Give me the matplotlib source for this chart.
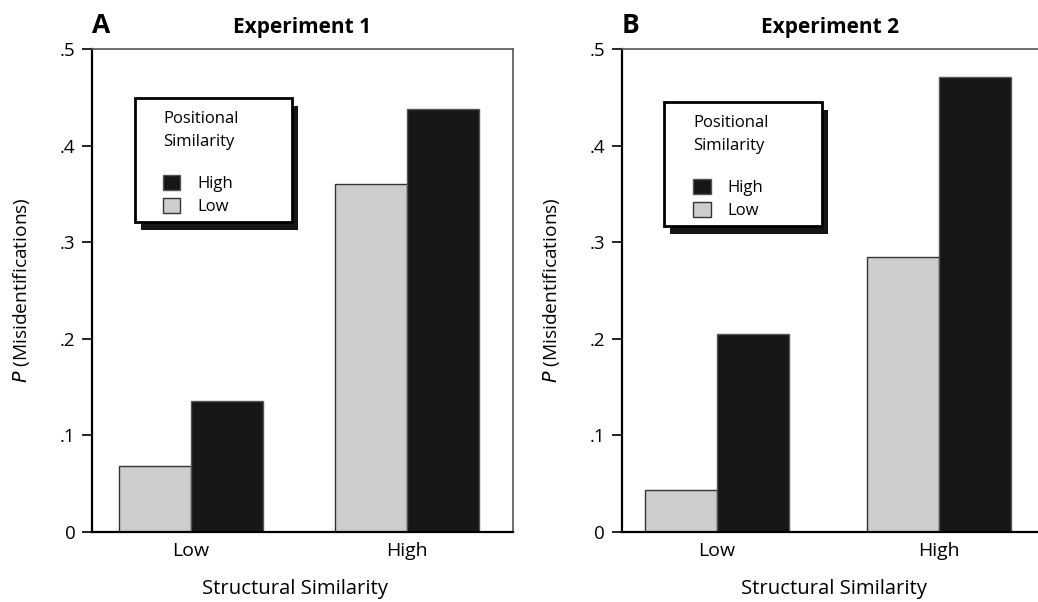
import matplotlib
matplotlib.use('Agg')
import matplotlib.pyplot as plt
import matplotlib.patheffects as pe
from matplotlib.patches import Rectangle
import numpy as np

plt.rcParams['font.family'] = ['Open Sans', 'DejaVu Sans']

#資料
groups = ['Low', 'High']
exp1_low = [0.068, 0.360]   # positional similarity low
exp1_high = [0.136, 0.438]  # positional similarity high
exp2_low = [0.043, 0.285]
exp2_high = [0.205, 0.471]
yticks = [0, 0.1, 0.2, 0.3, 0.4, 0.5]
ytick_labels = ['0', '.1', '.2', '.3', '.4', '.5']

gray = '#cccecd'
black = '#161616'

fig = plt.figure(figsize=(10.38, 6.02), dpi=100)
axA = fig.add_axes([92/1038, 1-532/602, 421/1038, 483/602])
axB = fig.add_axes([621.7/1038, 1-532/602, (1038-621.7)/1038, 483/602])

def draw(ax, low, high, title, letter, xlim, w, box, leg_anchor, xlab_x):
    x = np.arange(len(groups))
    ax.bar(x - w/2, low, width=w, color=gray, edgecolor='#333333', linewidth=1, label='Low')
    ax.bar(x + w/2, high, width=w, color=black, edgecolor='#555555', linewidth=1, label='High')
    ax.set_xlim(*xlim)
    ax.set_ylim(0, 0.5)
    ax.set_yticks(yticks)
    ax.set_yticklabels(ytick_labels, fontsize=13.5)
    ax.set_xticks(x)
    ax.set_xticklabels(groups, fontsize=14)
    ax.tick_params(axis='y', direction='out', length=7, width=1.2, pad=5)
    ax.tick_params(axis='x', length=0, pad=7)
    for s in ['left', 'bottom']:
        ax.spines[s].set_linewidth(1.6)
    for s in ['top', 'right']:
        ax.spines[s].set_linewidth(1.2)
        ax.spines[s].set_color('#555555')
    ax.set_xlabel('Structural Similarity', fontsize=14.6, labelpad=14)
    ax.xaxis.label.set_x(xlab_x)
    ax.set_ylabel(r'$\mathit{P}$ (Misidentifications)', fontsize=13.8, labelpad=20)
    ax.set_title(title, fontsize=15, fontweight='bold', pad=11.5)
    ax.text(0.0, 1.033, letter, transform=ax.transAxes, fontsize=19,
            fontweight='bold', ha='left', va='baseline')
    #圖例外框 + 陰影
    rect = Rectangle(box[:2], box[2], box[3], transform=ax.transAxes, facecolor='white',
                     edgecolor='black', linewidth=2, zorder=4, clip_on=False)
    rect.set_path_effects([pe.SimplePatchShadow(offset=(4.5, -5.5), shadow_rgbFace='#151515', alpha=1),
                           pe.Normal()])
    ax.add_patch(rect)
    h, l = ax.get_legend_handles_labels()
    leg = ax.legend(h[::-1], l[::-1], title='Positional\nSimilarity', loc='upper left',
                    bbox_to_anchor=leg_anchor, fontsize=12, title_fontsize=12,
                    alignment='left', frameon=False, handlelength=1.05,
                    handleheight=1.05, handletextpad=1.0, borderpad=0,
                    labelspacing=0.35, borderaxespad=0)
    leg.get_title().set_linespacing(1.55)
    leg._legend_box.sep = 18
    leg.set_zorder(5)

draw(axA, exp1_low, exp1_high, 'Experiment 1', 'A', (-0.458, 1.491), 0.333,
     (0.1021, 0.6418, 0.3729, 0.2567), (0.1686, (532-111)/483), 0.483)
draw(axB, exp2_low, exp2_high, 'Experiment 2', 'B', (-0.429, 1.446), 0.325,
     (0.1016, 0.6335, 0.3795, 0.2567), (0.1713, (532-115)/483), 0.511)
axB.spines['right'].set_visible(False)

fig.savefig('out.png', dpi=100)
